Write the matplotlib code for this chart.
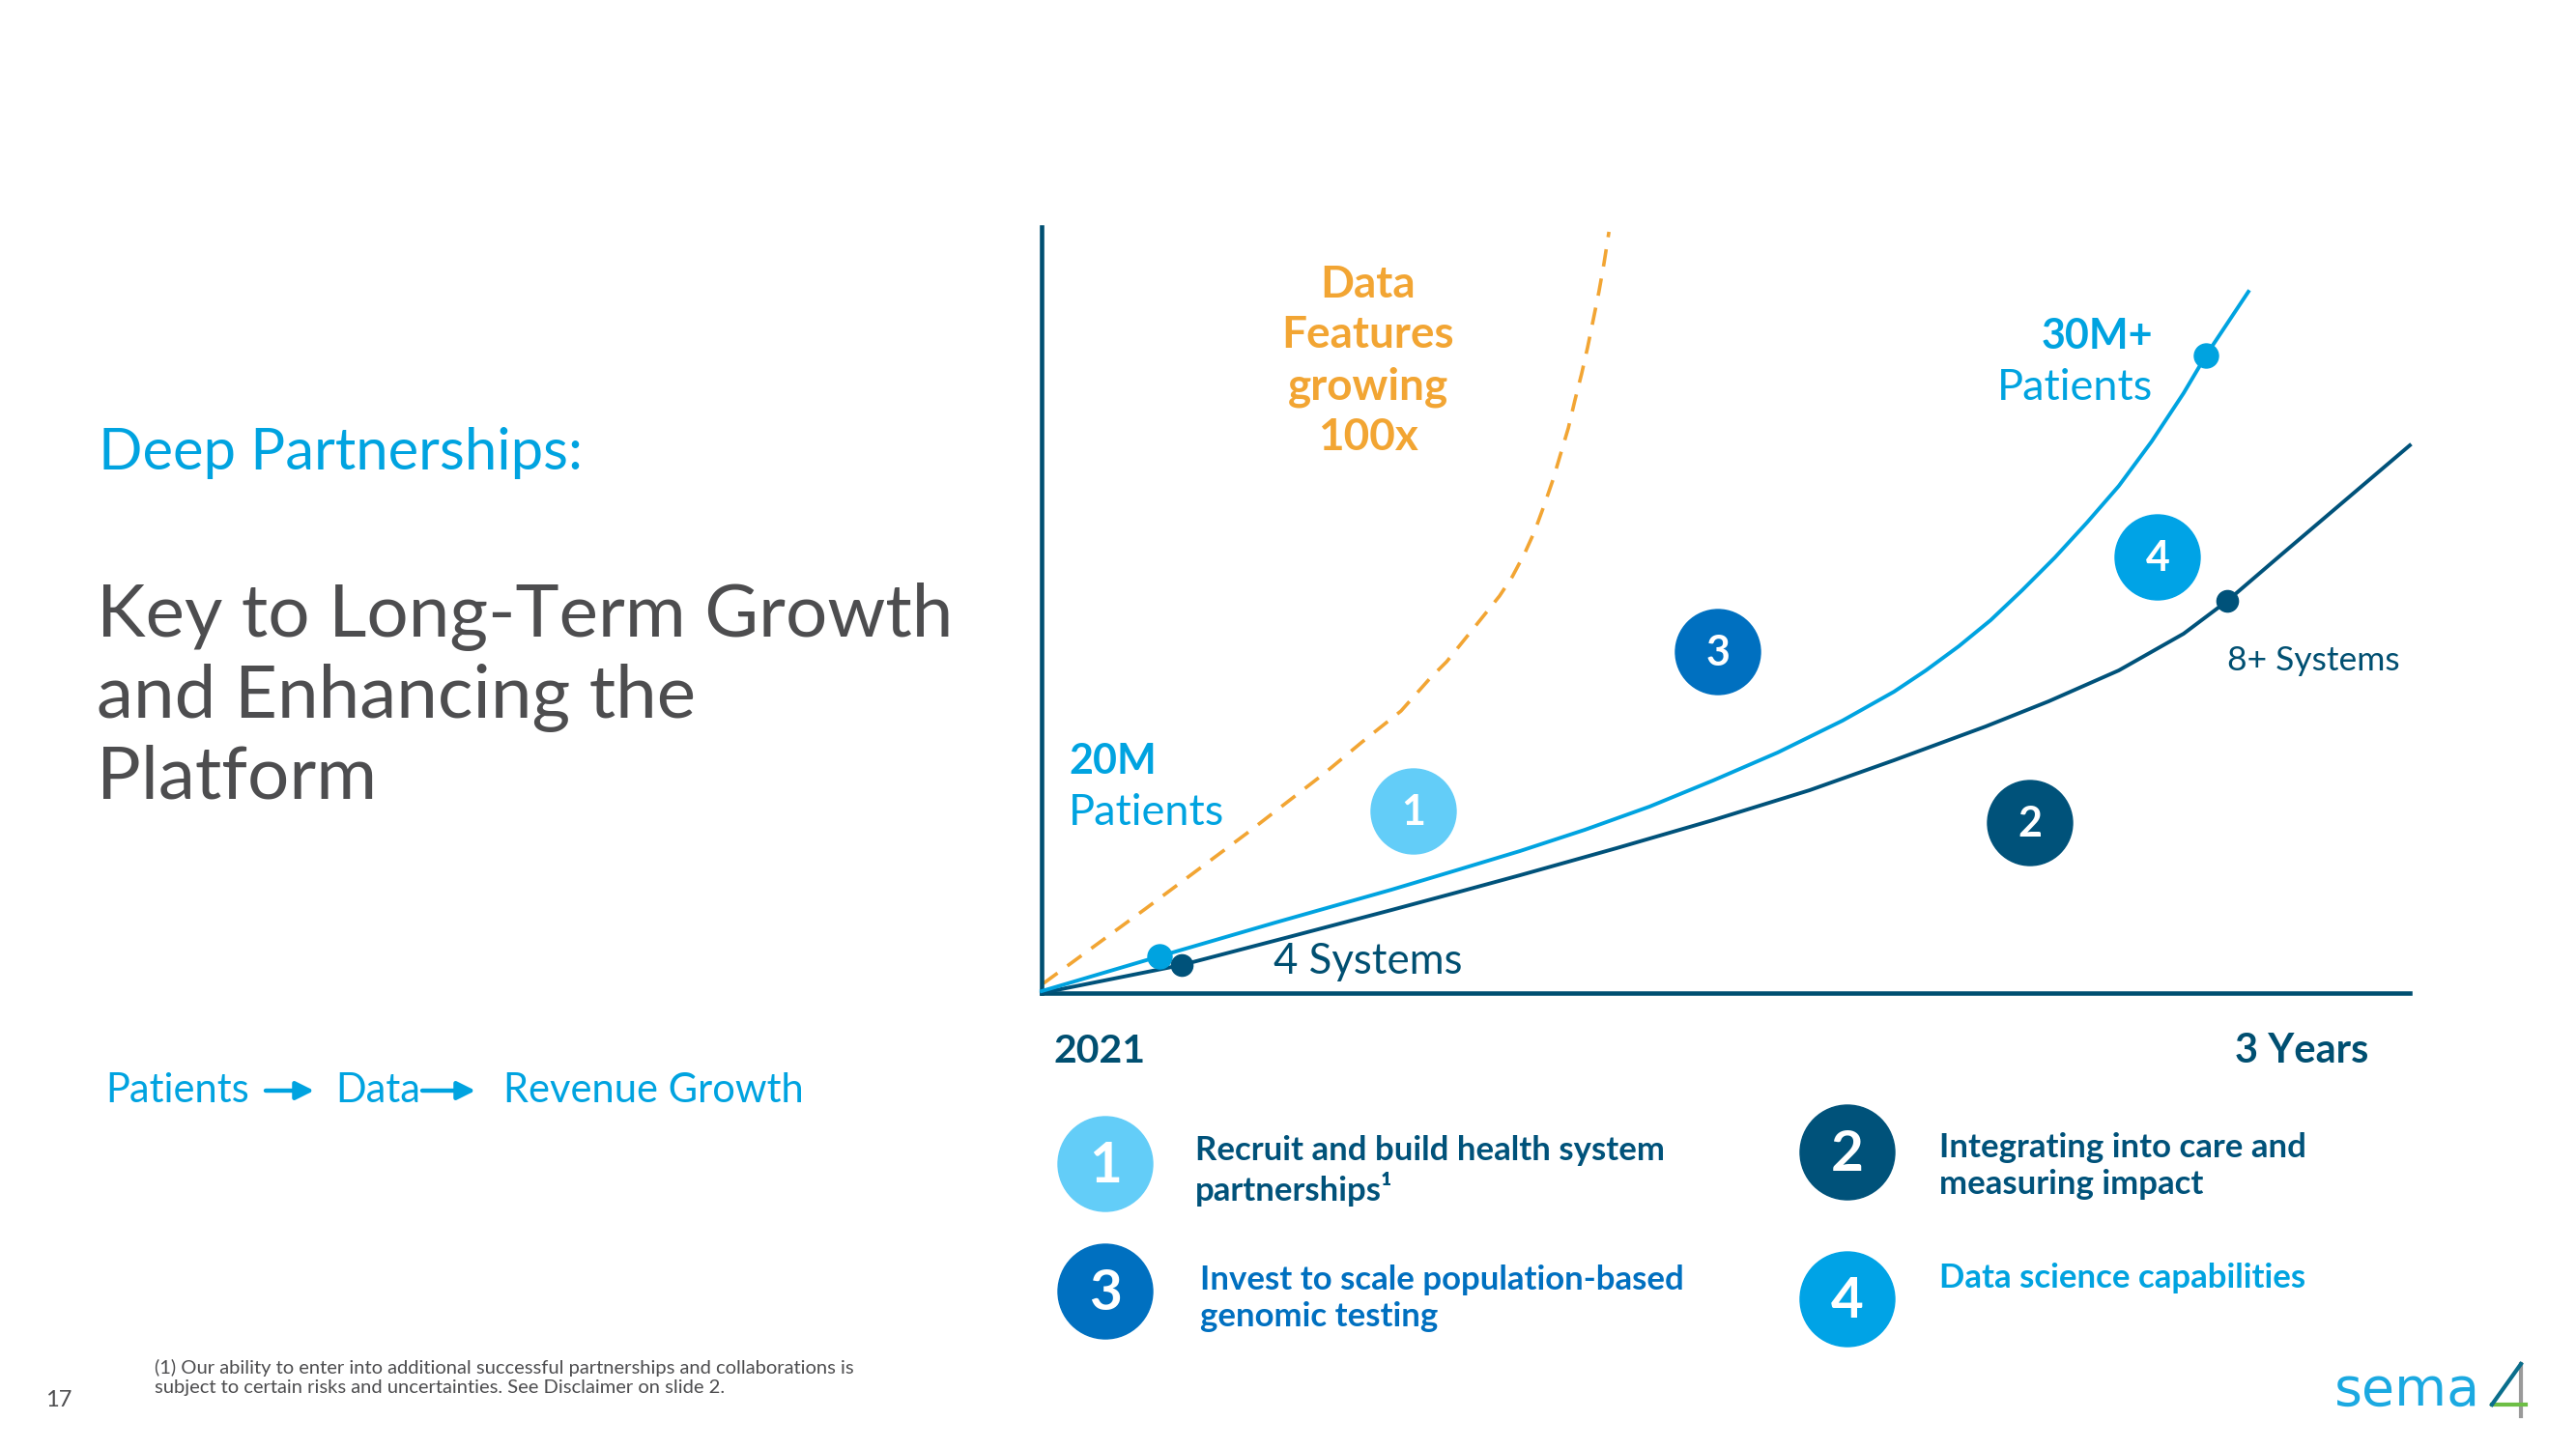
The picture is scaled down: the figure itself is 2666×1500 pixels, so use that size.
import matplotlib
matplotlib.use("Agg")
import matplotlib.pyplot as plt
from matplotlib.patches import Circle

# ---------------- data ----------------
# x: years after 2021 (0..3), y: relative growth index (0..100)
patients_x = [0.0, 0.258, 0.513, 0.767, 0.909, 1.049, 1.191, 1.333, 1.472, 1.614, 1.756, 1.869,
              1.939, 2.011, 2.081, 2.150, 2.222, 2.292, 2.362, 2.434, 2.504, 2.553, 2.646]
patients_y = [0.25, 4.79, 9.21, 13.49, 16.02, 18.54, 21.31, 24.34, 27.74, 31.40, 35.56, 39.34,
              42.12, 45.27, 48.68, 52.58, 56.87, 61.41, 66.20, 72.01, 78.31, 83.23, 91.55]

systems_x = [0.0, 0.307, 0.534, 0.767, 0.909, 1.049, 1.261, 1.472, 1.684, 1.869, 2.070, 2.208,
             2.362, 2.504, 2.600, 2.716, 2.858, 3.0]
systems_y = [0.0, 3.66, 7.19, 10.84, 13.11, 15.38, 18.92, 22.57, 26.48, 30.39, 34.80, 38.08,
             42.12, 46.91, 51.20, 57.12, 64.31, 71.50]

data_x = [0.004, 0.227, 0.449, 0.619, 0.703, 0.788, 0.852, 0.888, 0.953, 1.004, 1.032, 1.059,
          1.081, 1.102, 1.121, 1.138, 1.155, 1.169, 1.184, 1.197, 1.210, 1.222, 1.233, 1.244]
data_y = [1.26, 10.97, 20.81, 28.63, 32.79, 36.82, 41.11, 43.25, 48.05, 51.83, 54.35, 57.38,
          60.28, 63.68, 66.96, 70.37, 73.77, 77.30, 80.83, 84.24, 88.02, 91.55, 95.21, 99.37]

patients_marker_x = [0.258, 2.553]
patients_marker_y = [4.85, 83.23]
systems_marker_x = [0.307, 2.600]
systems_marker_y = [3.66, 51.20]

x_labels = ["2021", "3 Years"]
badge_numbers = ["1", "2", "3", "4"]
legend_texts = [
    "Recruit and build health system\npartnerships\u00b9",
    "Integrating into care and\nmeasuring impact",
    "Invest to scale population-based\ngenomic testing",
    "Data science capabilities",
]

# ---------------- styles ----------------
LIGHT = "#00A3E0"
DARK = "#00527A"
AXIS = "#004F71"
ORANGE = "#F2A533"
CYAN = "#63CDF8"
BLUE3 = "#0070C0"
BLUE4 = "#00A3E6"
GRAY = "#4D4D4F"
FONT = ["Lato", "DejaVu Sans"]

plt.rcParams["font.family"] = FONT

W, H = 2666, 1500
fig = plt.figure(figsize=(W / 100, H / 100), dpi=100)
fig.patch.set_facecolor("white")

# overlay in pixel coordinates for slide text
ax0 = fig.add_axes([0, 0, 1, 1])
ax0.set_xlim(0, W)
ax0.set_ylim(H, 0)
ax0.axis("off")

# chart axes
L, R, T, B = 1078, 2494, 235, 1028
ax = fig.add_axes([L / W, 1 - B / H, (R - L) / W, (B - T) / H])
ax.set_xlim(0, 3)
ax.set_ylim(0, 100)
ax.patch.set_alpha(0)
for s in ["top", "right"]:
    ax.spines[s].set_visible(False)
for s in ["left", "bottom"]:
    ax.spines[s].set_color(AXIS)
    ax.spines[s].set_linewidth(3.3)
ax.set_xticks([])
ax.set_yticks([])

ax.plot(data_x, data_y, color=ORANGE, lw=2.6, ls=(0, (5, 3.5)), clip_on=False, zorder=2,
        dash_joinstyle="round")
ax.plot(systems_x, systems_y, color=DARK, lw=2.8, clip_on=False, zorder=3, solid_joinstyle="round")
ax.plot(patients_x, patients_y, color=LIGHT, lw=2.8, clip_on=False, zorder=4, solid_joinstyle="round")
ax.plot(patients_marker_x, patients_marker_y, "o", color=LIGHT, ms=18, clip_on=False, zorder=5)
ax.plot(systems_marker_x, systems_marker_y, "o", color=DARK, ms=16, clip_on=False, zorder=5)

# chart annotations
ax0.text(1416, 374, "Data\nFeatures\ngrowing\n100x", color=ORANGE, fontsize=33, fontweight="bold",
         ha="center", va="center", linespacing=1.31)
ax0.text(2228, 348, "30M+", color=LIGHT, fontsize=31, fontweight="bold", ha="right", va="center")
ax0.text(2228, 402, "Patients", color=LIGHT, fontsize=32.5, ha="right", va="center")
ax0.text(1106, 788, "20M", color=LIGHT, fontsize=31, fontweight="bold", ha="left", va="center")
ax0.text(1106, 842, "Patients", color=LIGHT, fontsize=32.5, ha="left", va="center")
ax0.text(1318, 995, "4 Systems", color=AXIS, fontsize=31.5, ha="left", va="center")
ax0.text(2305, 684, "8+ Systems", color=AXIS, fontsize=25.5, ha="left", va="center")

ax0.text(1091, 1088, x_labels[0], color=AXIS, fontsize=29.5, fontweight="bold", ha="left", va="center")
ax0.text(2451, 1088, x_labels[1], color=AXIS, fontsize=30, fontweight="bold", ha="right", va="center")

# chart badges
chart_badges = [((1463, 840), CYAN), ((2101, 852), DARK), ((1778, 675), BLUE3), ((2233, 577), BLUE4)]
for num, ((cx, cy), col) in zip(badge_numbers, chart_badges):
    ax0.add_patch(Circle((cx, cy), 44, color=col, zorder=6))
    ax0.text(cx, cy + 1, num, color="white", fontsize=31, fontweight="bold", ha="center", va="center",
             zorder=7)

# legend badges
legend_badges = [((1144, 1205), CYAN, DARK, 1237, 1212),
                 ((1912, 1193), DARK, DARK, 2007, 1207),
                 ((1144, 1337), BLUE3, BLUE3, 1242, 1344),
                 ((1912, 1345), BLUE4, LIGHT, 2007, 1323)]
for num, txt, ((cx, cy), col, tcol, tx, ty) in zip(badge_numbers, legend_texts, legend_badges):
    ax0.add_patch(Circle((cx, cy), 49, color=col, zorder=6))
    ax0.text(cx, cy + 2, num, color="white", fontsize=42, fontweight="bold", ha="center", va="center",
             zorder=7)
    ax0.text(tx, ty, txt, color=tcol, fontsize=25, fontweight="bold", ha="left", va="center",
             linespacing=1.21)

# left side text
ax0.text(102, 469, "Deep Partnerships:", color=LIGHT, fontsize=43, ha="left", va="center")
ax0.text(100, 721, "Key to Long-Term Growth\nand Enhancing the\nPlatform", color=GRAY, fontsize=55,
         ha="left", va="center", linespacing=1.225)

ax0.text(109, 1129, "Patients", color=LIGHT, fontsize=30, ha="left", va="center")
ax0.text(347, 1129, "Data", color=LIGHT, fontsize=30, ha="left", va="center")
ax0.text(521, 1129, "Revenue Growth", color=LIGHT, fontsize=30, ha="left", va="center")
for x0, x1 in [(275, 325), (437, 492)]:
    ax0.annotate("", xy=(x1, 1129), xytext=(x0, 1129),
                 arrowprops=dict(arrowstyle="-|>", color=LIGHT, lw=3.2, mutation_scale=28,
                                 shrinkA=0, shrinkB=0))

# footer
ax0.text(160, 1426, "(1) Our ability to enter into additional successful partnerships and collaborations is\n"
         "subject to certain risks and uncertainties. See Disclaimer on slide 2.",
         color=GRAY, fontsize=14.5, ha="left", va="center", linespacing=1.26)
ax0.text(61, 1450, "17", color=GRAY, fontsize=17, ha="center", va="center")

# sema4 logo
ax0.text(2416, 1455, "sema", color="#1BA9E1", fontsize=40, ha="left", va="baseline",
         family=["DejaVu Sans"])
ax0.plot([2609, 2609], [1412, 1466], color="#9A9A9A", lw=3)
ax0.plot([2579, 2614], [1454, 1454], color="#6DBE45", lw=3)
ax0.plot([2579, 2609], [1454, 1412], color="#0A6E8C", lw=3)

fig.savefig("out.png", dpi=100, facecolor="white")
